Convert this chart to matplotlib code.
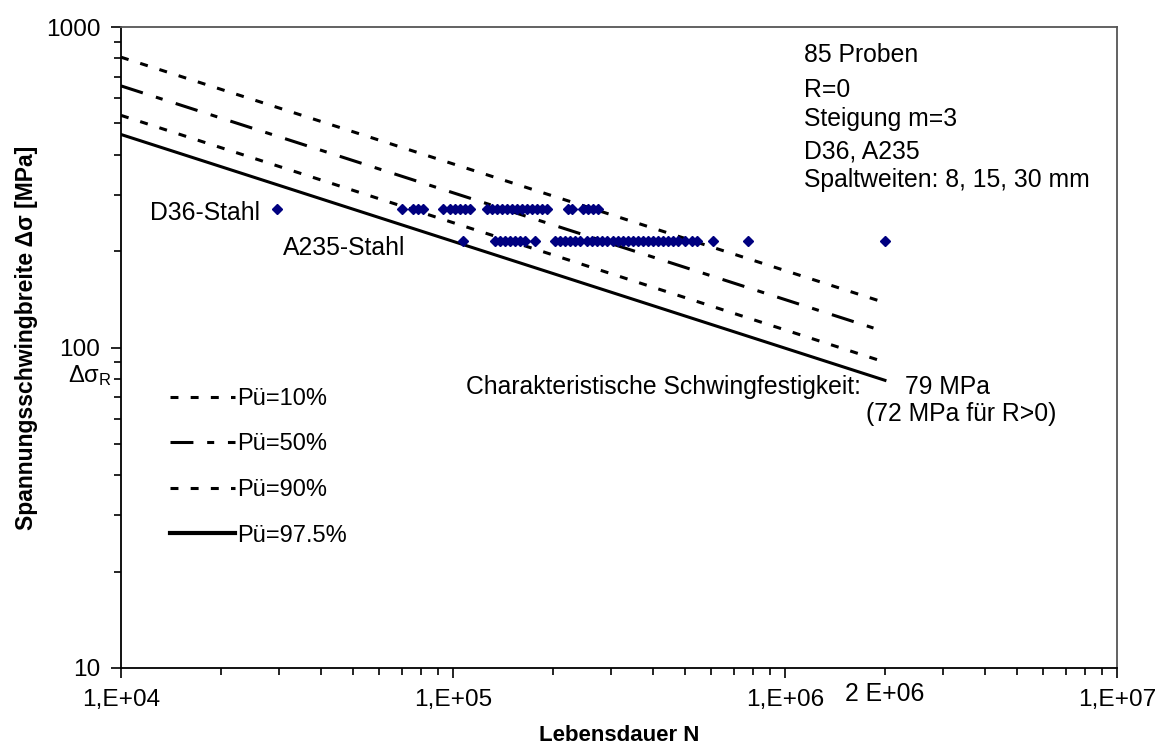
import matplotlib
matplotlib.use('Agg')
import matplotlib.pyplot as plt
from matplotlib.lines import Line2D

plt.rcParams['font.family'] = ['Liberation Sans', 'DejaVu Sans']
plt.rcParams['mathtext.fontset'] = 'custom'
plt.rcParams['mathtext.rm'] = 'Liberation Sans'
plt.rcParams['mathtext.it'] = 'Liberation Sans:italic'

# Wöhlerlinien (Endpunkte bei N=1e4 und N=2e6)
line_N = [1e4, 2e6]
p10 = [805, 138]
p50 = [655, 112]
p90 = [530, 90]
p975 = [462, 79]

# Versuchsdaten
d36_N = [29500, 70200, 75800, 78500, 81200, 93300, 97900, 101400, 105000,
         108700, 112500, 126500, 131000, 135700, 140500, 145400, 150600,
         155900, 161400, 167100, 173000, 179000, 185300, 191900, 222000,
         228200, 246300, 255000, 264000, 273300]
d36_S = [270] * len(d36_N)
a235_N = [107200, 133800, 138600, 143500, 148500, 153700, 159100, 164700,
          176500, 203000, 210100, 217500, 225100, 233000, 241300, 253400,
          262300, 271500, 281000, 290900, 303200, 314000, 325000, 336400,
          348300, 360500, 373200, 386300, 400000, 414000, 429000, 444000,
          460000, 476000, 500000, 525000, 543000, 607000, 774000, 2000000]
a235_S = [215] * len(a235_N)

x_ticks = [1e4, 1e5, 1e6, 1e7]
x_labels = ['1,E+04', '1,E+05', '1,E+06', '1,E+07']
y_ticks = [10, 100, 1000]
y_labels = ['10', '100', '1000']

fig = plt.figure(figsize=(11.67, 7.49), dpi=100)
ax = fig.add_axes([121/1167, 1-668/749, 996/1167, 641/749])
ax.set_xscale('log')
ax.set_yscale('log')
ax.set_xlim(1e4, 1e7)
ax.set_ylim(10, 1000)

lw = 2.2
ax.plot(line_N, p10, color='black', lw=lw, dashes=(2.6, 4.0))
ax.plot(line_N, p50, color='black', lw=lw, dashes=(7.5, 4.5, 2.3, 4.5))
ax.plot(line_N, p90, color='black', lw=lw, dashes=(2.6, 4.0))
ax.plot(line_N, p975, color='black', lw=lw)

ax.plot(d36_N, d36_S, ls='none', marker='D', ms=5.5, color='#000080')
ax.plot(a235_N, a235_S, ls='none', marker='D', ms=5.5, color='#000080')

ax.set_xticks(x_ticks)
ax.set_xticklabels(x_labels)
ax.set_yticks(y_ticks)
ax.set_yticklabels(y_labels)
ax.tick_params(axis='both', which='major', labelsize=17.6, length=7, width=1.2, direction='out', pad=8)
ax.tick_params(axis='both', which='minor', length=5, width=1.2, direction='out')
ax.yaxis.set_minor_formatter(matplotlib.ticker.NullFormatter())
ax.xaxis.set_minor_formatter(matplotlib.ticker.NullFormatter())

for s in ['left', 'bottom']:
    ax.spines[s].set_color('black')
    ax.spines[s].set_linewidth(1.3)
for s in ['top', 'right']:
    ax.spines[s].set_color('#555555')
    ax.spines[s].set_linewidth(1.3)

ax.set_xlabel('Lebensdauer N', fontsize=16, fontweight='bold', labelpad=10)
ax.set_ylabel('Spannungsschwingbreite Δσ [MPa]', fontsize=16.5, fontweight='bold', labelpad=13)
ax.yaxis.set_label_coords(-0.083, 0.515)

fs = 17.8
info = ['85 Proben', 'R=0', 'Steigung m=3', 'D36, A235', 'Spaltweiten: 8, 15, 30 mm']
info_y = [0.956, 0.902, 0.857, 0.805, 0.761]
for t, yy in zip(info, info_y):
    ax.text(0.686, yy, t, transform=ax.transAxes, fontsize=fs, va='center', ha='left')

ax.text(0.029, 0.710, 'D36-Stahl', transform=ax.transAxes, fontsize=fs, va='center')
ax.text(0.163, 0.655, 'A235-Stahl', transform=ax.transAxes, fontsize=fs, va='center')
ax.text(0.346, 0.439, 'Charakteristische Schwingfestigkeit:', transform=ax.transAxes, fontsize=fs, va='center')
ax.text(0.787, 0.439, '79 MPa', transform=ax.transAxes, fontsize=fs, va='center')
ax.text(0.748, 0.396, '(72 MPa für R>0)', transform=ax.transAxes, fontsize=fs, va='center')
ax.text(2e6, -0.022, '2 E+06', transform=ax.get_xaxis_transform(), fontsize=fs, ha='center', va='top')
ax.text(-0.009, 0.457, r'Δσ$_\mathrm{R}$', transform=ax.transAxes, fontsize=17, ha='right', va='center')

handles = [
    Line2D([], [], color='black', lw=lw, dashes=(2.6, 4.0)),
    Line2D([], [], color='black', lw=lw, dashes=(7.5, 4.5, 2.3, 4.5)),
    Line2D([], [], color='black', lw=lw, dashes=(2.6, 4.0)),
    Line2D([], [], color='black', lw=3),
]
labels = ['Pü=10%', 'Pü=50%', 'Pü=90%', 'Pü=97.5%']
ax.legend(handles, labels, loc='upper left', bbox_to_anchor=(0.049, 0.437),
          frameon=False, fontsize=17, handlelength=2.75, handletextpad=0.1,
          labelspacing=1.0, borderpad=0, borderaxespad=0)

fig.savefig('out.png', dpi=100)
